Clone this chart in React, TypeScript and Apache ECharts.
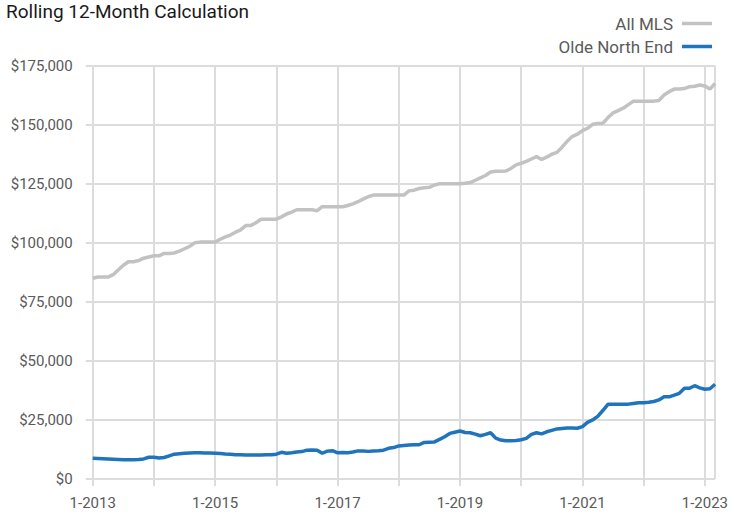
import React, { useEffect, useRef } from "react";
import * as echarts from "echarts";

const titleText = "Rolling 12-Month Calculation";
const seriesNames = ["All MLS", "Olde North End"];

// Monthly points, 1-2013 through 3-2023
const startYear = 2013;
const monthCount = 123;
const months: string[] = [];
for (let i = 0; i < monthCount; i++) {
  months.push(`${(i % 12) + 1}-${startYear + Math.floor(i / 12)}`);
}

const allMls = [
  85000, 85500, 85500, 85500, 86500, 88500, 90500, 92000, 92000, 92500, 93500, 94000,
  94500, 94500, 95500, 95500, 95700, 96500, 97500, 98500, 100000, 100300, 100300, 100300,
  100300, 101500, 102500, 103300, 104500, 105500, 107300, 107300, 108500, 110000, 110000, 110000,
  110000, 111000, 112200, 113000, 114000, 114000, 114000, 114000, 113600, 115300, 115300, 115300,
  115300, 115300, 115800, 116500, 117400, 118500, 119500, 120200, 120200, 120200, 120200, 120200,
  120200, 120200, 122000, 122300, 123000, 123300, 123500, 124500, 125000, 125000, 125000, 125000,
  125000, 125200, 125500, 126500, 127500, 128500, 130000, 130300, 130300, 130400, 131500, 133000,
  133700, 134500, 135500, 136500, 135300, 136300, 137500, 138300, 140500, 143000, 145000, 146000,
  147500, 148500, 150200, 150500, 150600, 153000, 155000, 156000, 157000, 158500, 160000, 160000,
  160000, 160000, 160000, 160300, 162600, 164000, 165100, 165100, 165300, 166100, 166300, 166800,
  166400, 165100, 167500,
];

const oldeNorthEnd = [
  8800, 8700, 8600, 8500, 8400, 8300, 8200, 8200, 8200, 8300, 8500, 9200,
  9200, 8900, 9100, 9800, 10500, 10700, 10900, 11000, 11100, 11100, 11000, 11000,
  10900, 10800, 10600, 10500, 10300, 10300, 10200, 10200, 10200, 10200, 10300, 10300,
  10500, 11300, 10900, 11100, 11400, 11600, 12200, 12300, 12200, 10900, 11800, 12000,
  11100, 11200, 11100, 11400, 11900, 11900, 11700, 11900, 12000, 12200, 13000, 13300,
  14000, 14200, 14400, 14500, 14500, 15500, 15600, 15700, 16800, 17900, 19300, 19800,
  20300, 19700, 19600, 19000, 18300, 18900, 19600, 17300, 16500, 16200, 16200, 16300,
  16600, 17200, 18900, 19600, 19100, 20000, 20600, 21200, 21400, 21600, 21600, 21500,
  22200, 24000, 25000, 26500, 29000, 31600, 31600, 31600, 31600, 31700, 32000, 32300,
  32300, 32500, 32800, 33500, 34800, 34800, 35500, 36300, 38400, 38400, 39500, 38600,
  38000, 38200, 40100,
];

const yMin = 0;
const yMax = 175000;
const yInterval = 25000;

const FONT = "Roboto";
const GRID_COLOR = "#dcdcdc";
const TEXT_COLOR = "#5a5a5a";

export default function App() {
  const ref = useRef<HTMLDivElement>(null);

  useEffect(() => {
    if (!ref.current) return;
    const chart = echarts.init(ref.current, undefined, { renderer: "svg" });
    const last = months.length - 1;
    chart.setOption({
      animation: false,
      backgroundColor: "#ffffff",
      title: {
        text: titleText,
        left: 1,
        top: -3,
        textStyle: { fontFamily: FONT, fontSize: 19, fontWeight: "normal", color: "#1a1a1a" },
      },
      legend: {
        orient: "vertical",
        right: 14,
        top: 10,
        align: "right",
        icon: "rect",
        itemWidth: 30,
        itemHeight: 3.5,
        itemGap: 6,
        textStyle: { fontFamily: FONT, fontSize: 17, color: TEXT_COLOR, padding: [0, 4, 0, 0] },
        data: seriesNames,
      },
      grid: { left: 92.7, right: 14, top: 65.7, bottom: 33, containLabel: false },
      xAxis: {
        type: "category",
        data: months,
        boundaryGap: false,
        axisLine: { show: false },
        axisTick: {
          show: true,
          length: 7,
          interval: (i: number) => i % 12 === 0,
          lineStyle: { color: GRID_COLOR, width: 2 },
        },
        axisLabel: {
          interval: (i: number) => i % 24 === 0,
          margin: 16,
          fontFamily: FONT,
          fontSize: 15,
          color: TEXT_COLOR,
        },
        splitLine: {
          show: true,
          interval: (i: number) => i % 12 === 0 || i === last,
          lineStyle: { color: GRID_COLOR, width: 2 },
        },
      },
      yAxis: {
        type: "value",
        min: yMin,
        max: yMax,
        interval: yInterval,
        axisLine: { show: false },
        axisTick: { show: true, length: 7, lineStyle: { color: GRID_COLOR, width: 2 } },
        axisLabel: {
          margin: 20,
          fontFamily: FONT,
          fontSize: 15,
          color: TEXT_COLOR,
          formatter: (v: number) => "$" + v.toLocaleString("en-US"),
        },
        splitLine: { show: true, lineStyle: { color: GRID_COLOR, width: 2 } },
      },
      series: [
        {
          name: seriesNames[0],
          type: "line",
          data: allMls,
          showSymbol: false,
          symbol: "none",
          lineStyle: { color: "#c2c2c2", width: 3.5 },
          itemStyle: { color: "#c2c2c2" },
          z: 3,
        },
        {
          name: seriesNames[1],
          type: "line",
          data: oldeNorthEnd,
          showSymbol: false,
          symbol: "none",
          lineStyle: { color: "#1f74bd", width: 3.5 },
          itemStyle: { color: "#1f74bd" },
          z: 4,
        },
      ],
    });
    return () => chart.dispose();
  }, []);

  return (
    <div
      ref={ref}
      style={{ position: "fixed", left: 0, top: 0, width: 731, height: 512, background: "#fff" }}
    />
  );
}
